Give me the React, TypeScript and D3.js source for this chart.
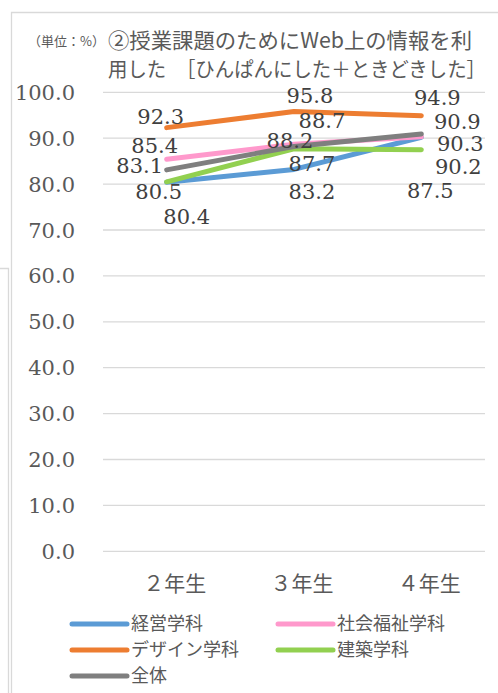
import React from "react";
import * as d3 from "d3";

const categories = ["２年生", "３年生", "４年生"];
const seriesNames = ["経営学科", "社会福祉学科", "デザイン学科", "建築学科", "全体"];
const keiei = [80.4, 83.2, 90.2];
const shakai = [85.4, 88.7, 90.3];
const design = [92.3, 95.8, 94.9];
const kenchiku = [80.5, 87.7, 87.5];
const zentai = [83.1, 88.2, 90.9];
const yTicks = [0, 10, 20, 30, 40, 50, 60, 70, 80, 90, 100];

const colors = ["#5B9BD5", "#FF99CC", "#ED7D31", "#92D050", "#7F7F7F"];
// label offsets (dx, dy) relative to each point, per series
const labelOffsets = [
  [[20, 34], [18, 22], [37, 29.5]],
  [[-12, -14], [28, -23.5], [39, 7]],
  [[-6, -11], [16, -16.6], [16, -18]],
  [[-8, 10], [18, 14.5], [9, 41]],
  [[-27, -4], [-4, -6.5], [36, -13]],
];

const W = 498;
const H = 693;
const serif = "'DejaVu Serif', 'Noto Sans CJK JP', serif";
const sans = "'Noto Sans CJK JP', sans-serif";

export default function App() {
  const seriesValues = [keiei, shakai, design, kenchiku, zentai];
  const y = d3.scaleLinear().domain([0, 100]).range([551.3, 92.3]);
  const x = d3.scalePoint<string>().domain(categories).range([103, 485]).padding(0.5);
  const line = d3
    .line<number>()
    .x((_, i) => x(categories[i]) as number)
    .y((d) => y(d));

  const legendCols = [72, 278];
  const legendRows = [624, 650, 676];

  return (
    <svg
      width={W}
      height={H}
      style={{ position: "absolute", left: 0, top: 0, background: "#fff" }}
    >
      <rect x={0} y={0} width={W} height={H} fill="#fff" />
      {/* background frame of neighbouring chart */}
      <path d={`M0,268.5 H8.5 V${H}`} fill="none" stroke="#d9d9d9" strokeWidth={1.3} />
      {/* chart frame */}
      <path d={`M11.5,${H} V12.5 H${W}`} fill="none" stroke="#d9d9d9" strokeWidth={1.3} />

      {/* unit */}
      <text x={28} y={46} fontFamily={sans} fontSize={13} fill="#595959">
        （単位：%）
      </text>
      {/* title */}
      <text x={108} y={48} fontFamily={sans} fontSize={21} fill="#595959" textLength={364} lengthAdjust="spacingAndGlyphs">
        ②授業課題のためにWeb上の情報を利
      </text>
      <text x={108} y={76.5} fontFamily={sans} fontSize={20} fill="#595959" textLength={378} lengthAdjust="spacingAndGlyphs">
        用した　［ひんぱんにした＋ときどきした］
      </text>

      {/* gridlines and y labels */}
      {yTicks.map((t) => (
        <g key={t}>
          <line x1={103} x2={485} y1={y(t)} y2={y(t)} stroke="#d9d9d9" strokeWidth={1.3} />
          <text x={75} y={y(t)} dy="0.36em" textAnchor="end" fontFamily={serif} fontSize={21} fill="#595959">
            {t.toFixed(1)}
          </text>
        </g>
      ))}

      {/* x labels */}
      {categories.map((c) => (
        <text key={c} x={(x(c) as number) + 8} y={583} dy="0.36em" textAnchor="middle" fontFamily={serif} fontSize={21} fill="#595959">
          {c}
        </text>
      ))}

      {/* lines */}
      {seriesValues.map((vals, si) => (
        <path key={si} d={line(vals) || ""} fill="none" stroke={colors[si]} strokeWidth={5} strokeLinecap="round" strokeLinejoin="round" />
      ))}

      {/* data labels */}
      {seriesValues.map((vals, si) =>
        vals.map((v, i) => (
          <text
            key={`${si}-${i}`}
            x={(x(categories[i]) as number) + labelOffsets[si][i][0]}
            y={y(v) + labelOffsets[si][i][1]}
            dy="0.36em"
            textAnchor="middle"
            fontFamily={serif}
            fontSize={21}
            fill="#404040"
          >
            {v.toFixed(1)}
          </text>
        ))
      )}

      {/* legend */}
      {seriesNames.map((n, i) => {
        const lx = legendCols[i % 2];
        const ly = legendRows[Math.floor(i / 2)];
        return (
          <g key={n}>
            <line x1={lx} x2={lx + 55} y1={ly} y2={ly} stroke={colors[i]} strokeWidth={5} strokeLinecap="round" />
            <text x={lx + 59} y={ly} dy="0.36em" fontFamily={sans} fontSize={18} fill="#595959">
              {n}
            </text>
          </g>
        );
      })}
    </svg>
  );
}
